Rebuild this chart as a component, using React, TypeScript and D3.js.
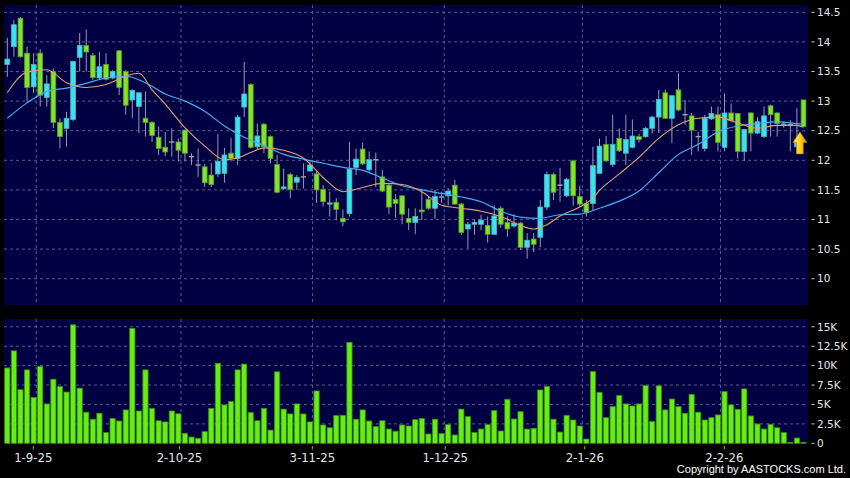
import React from "react";
import * as d3 from "d3";

// ---- data ----
const tickLabels = ["1-9-25", "2-10-25", "3-11-25", "1-12-25", "2-1-26", "2-2-26"];
const tickIdx = [4, 26, 46, 66, 87, 108];
const priceTicks = [10, 10.5, 11, 11.5, 12, 12.5, 13, 13.5, 14, 14.5];
const volTicks = [0, 2.5, 5, 7.5, 10, 12.5, 15];

const openP = [
  13.62, 13.92, 14.40, 13.81, 13.24, 13.81, 13.06, 13.50, 12.64, 12.54,
  12.69, 13.74, 13.94, 13.77, 13.39, 13.62, 13.39, 13.85, 13.50, 13.02,
  12.91, 12.71, 12.64, 12.39, 12.22, 12.31, 12.31, 12.51, 12.06, 11.92,
  11.89, 11.75, 11.77, 11.78, 12.12, 12.03, 12.90, 13.28, 12.23, 12.61,
  12.40, 11.93, 11.52, 11.76, 11.63, 11.72, 11.82, 11.77, 11.51, 11.26,
  11.29, 11.02, 11.10, 11.88, 12.19, 11.84, 12.01, 11.72, 11.58, 11.34,
  11.40, 11.02, 10.95, 11.16, 11.34, 11.19, 11.38, 11.40, 11.58, 11.26,
  10.84, 10.92, 10.92, 10.90, 10.75, 11.19, 10.95, 10.89, 10.94, 10.53,
  10.67, 10.70, 11.21, 11.76, 11.58, 11.40, 11.99, 11.39, 11.27, 11.27,
  11.78, 12.27, 11.93, 12.37, 12.12, 12.22, 12.40, 12.40, 12.54, 12.73,
  13.14, 12.71, 13.19, 12.77, 12.75, 12.40, 12.20, 12.70, 12.77, 12.22,
  12.80, 12.79, 12.15, 12.80, 12.46, 12.40, 12.92, 12.80, 12.61, 12.60,
  12.23, 13.02,
];
const closeP = [
  13.71, 14.29, 13.75, 13.23, 13.62, 13.10, 13.29, 12.64, 12.40, 12.71,
  13.67, 13.94, 13.83, 13.40, 13.58, 13.37, 13.50, 13.23, 12.93, 13.18,
  13.14, 12.64, 12.42, 12.20, 12.14, 12.31, 12.17, 12.12, 12.06, 11.92,
  11.62, 11.59, 11.98, 12.09, 12.03, 12.73, 13.12, 12.22, 12.41, 12.23,
  12.03, 11.46, 11.55, 11.51, 11.71, 11.72, 11.92, 11.50, 11.30, 11.28,
  11.17, 10.96, 11.85, 12.02, 11.94, 12.01, 12.01, 11.48, 11.21, 11.27,
  11.09, 10.95, 11.05, 11.13, 11.19, 11.39, 11.38, 11.48, 11.26, 10.78,
  10.92, 10.95, 10.99, 10.75, 11.06, 10.92, 10.84, 10.94, 10.53, 10.65,
  10.58, 11.21, 11.76, 11.46, 11.58, 11.68, 11.40, 11.26, 11.12, 11.91,
  12.24, 11.99, 12.27, 12.16, 12.35, 12.41, 12.35, 12.54, 12.73, 13.03,
  12.71, 13.09, 12.85, 12.77, 12.51, 12.40, 12.71, 12.79, 12.30, 12.80,
  12.67, 12.15, 12.52, 12.46, 12.65, 12.75, 12.77, 12.62, 12.61, 12.60,
  12.34, 12.57,
];
const highP = [
  14.07, 14.37, 14.42, 13.92, 13.81, 13.88, 13.44, 13.55, 12.71, 12.82,
  13.68, 14.15, 14.21, 13.81, 13.83, 13.81, 13.52, 13.86, 13.52, 13.20,
  13.15, 13.16, 12.66, 12.57, 12.48, 12.54, 12.37, 12.52, 12.12, 12.20,
  11.94, 11.95, 12.44, 12.21, 12.38, 12.77, 13.66, 13.30, 12.62, 12.63,
  12.42, 12.09, 11.86, 11.79, 11.75, 11.95, 11.98, 11.81, 11.58, 11.47,
  11.36, 11.17, 12.31, 12.20, 12.30, 12.15, 12.13, 11.84, 11.62, 11.43,
  11.41, 11.19, 11.19, 11.51, 11.38, 11.50, 11.47, 11.53, 11.67, 11.28,
  10.96, 10.99, 11.08, 11.05, 11.24, 11.22, 11.05, 11.09, 10.96, 10.77,
  10.77, 11.33, 11.81, 11.79, 11.87, 11.70, 12.01, 11.57, 11.33, 12.23,
  12.37, 12.41, 12.77, 12.54, 12.77, 12.69, 12.45, 12.56, 12.75, 13.19,
  13.19, 13.10, 13.48, 13.02, 12.80, 12.48, 12.77, 12.91, 12.91, 13.13,
  12.96, 12.80, 12.53, 12.81, 12.73, 12.91, 12.94, 12.81, 12.66, 12.68,
  12.88, 13.02,
];
const lowP = [
  13.41, 13.75, 13.73, 12.99, 13.13, 12.91, 12.91, 12.54, 12.20, 12.23,
  12.66, 13.50, 13.50, 13.36, 13.36, 13.35, 13.37, 13.10, 12.77, 12.71,
  12.46, 12.40, 12.31, 12.09, 12.07, 12.06, 11.98, 11.98, 11.92, 11.72,
  11.55, 11.55, 11.72, 11.62, 11.98, 11.92, 12.73, 12.20, 12.17, 12.12,
  11.95, 11.44, 11.50, 11.36, 11.50, 11.52, 11.81, 11.28, 11.22, 11.05,
  10.99, 10.89, 11.05, 11.75, 11.92, 11.81, 11.55, 11.46, 11.09, 11.03,
  10.92, 10.82, 10.75, 10.99, 11.16, 11.01, 11.28, 11.24, 11.25, 10.74,
  10.51, 10.74, 10.82, 10.61, 10.74, 10.86, 10.71, 10.86, 10.49, 10.34,
  10.45, 10.53, 11.16, 11.33, 11.30, 11.38, 11.23, 11.22, 11.05, 11.16,
  11.78, 11.97, 11.89, 12.14, 11.92, 12.20, 12.30, 12.38, 12.45, 12.46,
  12.70, 12.29, 12.83, 12.60, 12.09, 12.15, 12.15, 12.68, 12.15, 12.15,
  12.65, 12.03, 11.99, 12.15, 12.44, 12.38, 12.40, 12.40, 12.55, 12.15,
  12.12, 12.57,
];
// volume in thousands
const volumeK = [
  9.7, 11.9, 6.9, 9.45, 5.9, 9.9, 5.07, 8.25, 7.3, 6.6,
  15.25, 7.1, 4.0, 3.1, 3.87, 1.37, 3.2, 2.87, 4.3, 14.8,
  4.16, 9.45, 4.5, 2.9, 2.75, 4.16, 3.8, 1.29, 0.81, 0.64,
  1.5, 4.5, 10.3, 4.94, 5.36, 9.45, 10.2, 3.95, 2.9, 4.5,
  1.7, 9.2, 4.4, 3.78, 5.07, 3.78, 2.75, 6.74, 2.36, 2.0,
  3.56, 3.6, 13.0, 3.1, 4.3, 2.87, 2.14, 2.9, 1.84, 1.55,
  2.36, 2.23, 3.04, 3.2, 1.2, 3.1, 1.24, 2.4, 1.07, 4.4,
  3.43, 1.4, 1.84, 2.4, 4.2, 1.58, 5.67, 3.13, 4.07, 1.84,
  1.93, 6.87, 7.3, 3.1, 1.45, 3.6, 3.0, 2.23, 0.55, 9.23,
  6.57, 3.3, 4.72, 6.14, 5.07, 4.8, 5.07, 7.43, 2.8, 7.4,
  4.3, 5.7, 4.72, 3.87, 6.3, 4.0, 3.0, 3.3, 3.65, 6.65,
  4.94, 4.38, 7.0, 3.52, 2.49, 1.84, 2.45, 2.0, 1.37, 0.13,
  0.68, 0.13,
];
// moving averages, read at selected bar indices
const maShortIdx = [0, 3, 6, 9, 12, 15, 18, 20, 22, 24, 27, 30, 33, 35, 37, 39, 42, 45, 48, 51, 54, 57, 60, 63, 66, 69, 72, 75, 78, 80, 82, 84, 87, 89, 90, 93, 96, 99, 102, 105, 108, 111, 114, 117, 120, 121];
const maShortVal = [13.14, 13.49, 13.53, 13.31, 13.23, 13.28, 13.42, 13.47, 13.19, 12.95, 12.55, 12.24, 12.01, 12.04, 12.13, 12.21, 12.17, 12.04, 11.71, 11.47, 11.54, 11.61, 11.59, 11.47, 11.24, 11.19, 11.14, 11.05, 10.90, 10.84, 10.91, 11.06, 11.21, 11.36, 11.49, 11.77, 12.05, 12.37, 12.60, 12.71, 12.73, 12.63, 12.54, 12.59, 12.59, 12.56];
const maLongIdx = [0, 3, 6, 9, 12, 15, 18, 21, 24, 27, 30, 33, 36, 39, 42, 45, 48, 51, 54, 57, 60, 63, 66, 69, 72, 75, 78, 81, 84, 87, 90, 93, 96, 99, 102, 105, 108, 111, 114, 117, 120, 121];
const maLongVal = [12.71, 12.97, 13.16, 13.22, 13.30, 13.39, 13.42, 13.31, 13.12, 13.00, 12.83, 12.58, 12.39, 12.25, 12.10, 12.02, 11.95, 11.88, 11.83, 11.70, 11.57, 11.50, 11.44, 11.38, 11.30, 11.14, 11.04, 11.02, 11.08, 11.09, 11.19, 11.31, 11.48, 11.79, 12.10, 12.27, 12.48, 12.58, 12.62, 12.65, 12.62, 12.61];
const arrowIdx = 120;

// ---- layout ----
const W = 850, H = 478;
const PX0 = 4, PX1 = 808;
const PY0 = 5, PY1 = 305;
const VY0 = 319, VY1 = 443.3;
const N = openP.length;

const xs = d3.scaleLinear().domain([0, N - 1]).range([7.3, 803.5]);
const xt = d3.scaleLinear().domain([0, N - 1]).range([6.7, 810.7]);
const yp = d3.scaleLinear().domain([10, 14.5]).range([278.7, 12.3]);
const yv = d3.scaleLinear().domain([0, 16]).range([VY1, VY0]);

const GRID = "#5a5a8c";
const FONT = "DejaVu Sans, sans-serif";

export default function App() {
  const lineGen = (idx: number[], vals: number[]) =>
    d3.line<number>().x((_, i) => xs(idx[i])).y((v) => yp(v)).curve(d3.curveMonotoneX)(vals) || "";

  const gridX = tickIdx.map((i) => xs(i) + 2.6);
  const ax = xs(arrowIdx) + 3;
  const ay = yp(12.48);

  return (
    <svg width={W} height={H} style={{ position: "absolute", left: 0, top: 0, background: "#000" }}>
      <defs>
        <linearGradient id="arrowGrad" x1="0" x2="1" y1="0" y2="0">
          <stop offset="0" stopColor="#fff07a" />
          <stop offset="0.5" stopColor="#ffd21e" />
          <stop offset="1" stopColor="#e09000" />
        </linearGradient>
      </defs>
      <rect x={0} y={0} width={W} height={H} fill="#000" />
      {/* price panel */}
      <rect x={PX0} y={PY0} width={PX1 - PX0} height={PY1 - PY0} fill="#000042" />
      {priceTicks.map((t) => (
        <line key={"pg" + t} x1={PX0} x2={PX1} y1={yp(t)} y2={yp(t)} stroke={GRID} strokeDasharray="3,3" strokeWidth={1} />
      ))}
      {gridX.map((x, k) => (
        <line key={"pvx" + k} x1={x} x2={x} y1={PY0} y2={PY1} stroke={GRID} strokeDasharray="3,3" strokeWidth={1} />
      ))}
      {/* candles */}
      {openP.map((o, i) => {
        const c = closeP[i];
        const x = xs(i);
        const doji = Math.abs(c - o) < 0.015;
        const up = c > o;
        const fill = doji ? "#a0a0b4" : up ? "#35e4f2" : "#80e42a";
        const stroke = doji ? "#a0a0b4" : up ? "#62aeb8" : "#5c9a2c";
        const top = yp(Math.max(o, c));
        const bot = yp(Math.min(o, c));
        return (
          <g key={"c" + i}>
            <line x1={x} x2={x} y1={yp(highP[i])} y2={yp(lowP[i])} stroke="#9a9ab0" strokeWidth={1} />
            {doji ? (
              <line x1={x - 2.6} x2={x + 2.6} y1={top} y2={top} stroke={fill} strokeWidth={1.4} />
            ) : (
              <rect x={x - 2.4} y={top} width={4.8} height={Math.max(bot - top, 1.2)} fill={fill} stroke={stroke} strokeWidth={0.8} />
            )}
          </g>
        );
      })}
      <path d={lineGen(maLongIdx, maLongVal)} fill="none" stroke="#4aaaf0" strokeWidth={1.2} />
      <path d={lineGen(maShortIdx, maShortVal)} fill="none" stroke="#e0a070" strokeWidth={1.1} />
      {/* arrow */}
      <polygon
        points={`${ax},${ay} ${ax + 7},${ay + 10.5} ${ax + 3.4},${ay + 10.5} ${ax + 3.4},${ay + 22} ${ax - 3.4},${ay + 22} ${ax - 3.4},${ay + 10.5} ${ax - 7},${ay + 10.5}`}
        fill="url(#arrowGrad)"
        stroke="#b87800"
        strokeWidth={0.6}
      />
      {/* price axis */}
      {priceTicks.map((t) => (
        <g key={"pa" + t}>
          <line x1={811.5} x2={814.5} y1={yp(t)} y2={yp(t)} stroke="#cccccc" strokeWidth={1} />
          <text x={817} y={yp(t)} dy="0.36em" fontFamily={FONT} fontSize={10.5} fill="#e6e6e6">
            {t}
          </text>
        </g>
      ))}

      {/* volume panel */}
      <rect x={PX0} y={VY0} width={PX1 - PX0} height={VY1 - VY0} fill="#000042" />
      {volTicks.filter((t) => t > 0).map((t) => (
        <line key={"vg" + t} x1={PX0} x2={PX1} y1={yv(t)} y2={yv(t)} stroke={GRID} strokeDasharray="3,3" strokeWidth={1} />
      ))}
      {gridX.map((x, k) => (
        <line key={"vvx" + k} x1={x} x2={x} y1={VY0} y2={VY1} stroke={GRID} strokeDasharray="3,3" strokeWidth={1} />
      ))}
      {volumeK.map((v, i) => (
        <rect key={"v" + i} x={xs(i) - 2.6} y={yv(v)} width={5.2} height={VY1 - yv(v)} fill="#66ee14" stroke="#3b8e12" strokeWidth={0.8} />
      ))}
      {volTicks.map((t) => (
        <g key={"va" + t}>
          <line x1={811.5} x2={814.5} y1={yv(t)} y2={yv(t)} stroke="#cccccc" strokeWidth={1} />
          <text x={817} y={yv(t)} dy="0.36em" fontFamily={FONT} fontSize={10.5} fill="#e6e6e6">
            {t === 0 ? "0" : `${t}K`}
          </text>
        </g>
      ))}

      {/* date axis */}
      {tickIdx.map((i, k) => (
        <g key={"d" + k}>
          <line x1={xt(i)} x2={xt(i)} y1={446} y2={449.5} stroke="#999999" strokeWidth={1} />
          <text x={xt(i)} y={461.7} textAnchor="middle" fontFamily={FONT} fontSize={11.7} fill="#e6e6e6">
            {tickLabels[k]}
          </text>
        </g>
      ))}
      <text x={846} y={473} textAnchor="end" fontFamily="Liberation Sans, Arial, sans-serif" fontSize={11} fill="#ffffff">
        Copyright by AASTOCKS.com Ltd.
      </text>
    </svg>
  );
}
